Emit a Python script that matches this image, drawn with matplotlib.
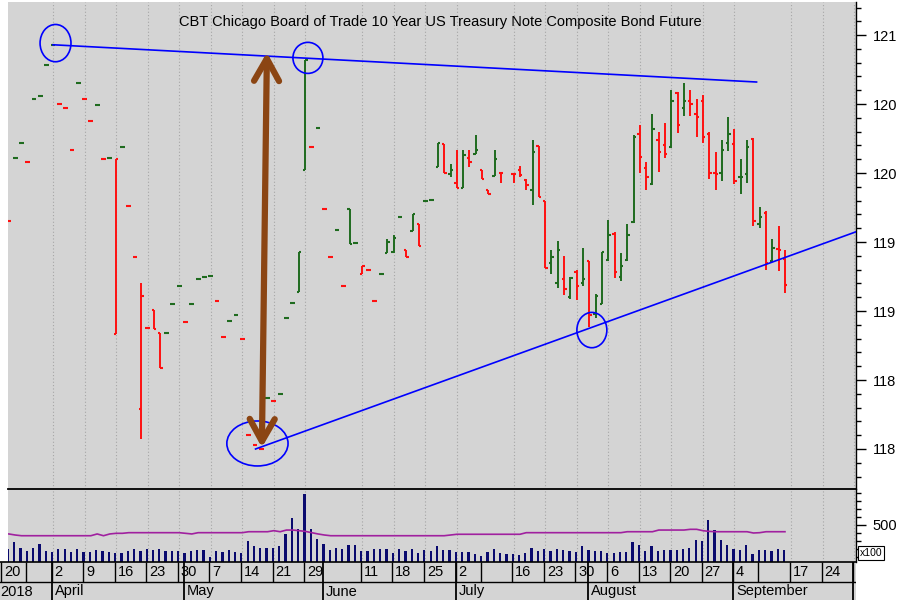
import numpy as np
import pandas as pd
import matplotlib
matplotlib.use("Agg")
import matplotlib.pyplot as plt
from matplotlib.patches import Ellipse

plt.rcParams['font.family'] = ['Liberation Sans', 'DejaVu Sans']

title = "CBT Chicago Board of Trade 10 Year US Treasury Note Composite Bond Future"

# ---------------- trading calendar ----------------
holidays = ['2018-03-30', '2018-05-28', '2018-07-04', '2018-09-03']
calendar = pd.bdate_range('2018-03-19', '2018-10-05')
calendar = calendar[~calendar.isin(pd.to_datetime(holidays))]
cal_list = list(calendar)
origin = cal_list.index(pd.Timestamp('2018-04-02'))


def xpos(date):
    return cal_list.index(pd.Timestamp(date)) - origin


first_bar, last_bar = '2018-03-21', '2018-09-14'
bar_dates = calendar[(calendar >= first_bar) & (calendar <= last_bar)]

# ---------------- daily data (21 Mar .. 14 Sep 2018) ----------------
nan = np.nan
opens = [
    119.65, 120.11, 120.22, 120.08, 120.54, 120.56, 120.78, 120.93, 120.50, 120.47,
    120.17, 120.65, 120.54, 120.38, 120.49, 120.10, 120.11, 118.83, 120.19, 119.76,
    119.39, 118.29, 118.88, 119.01, 118.84, 118.84, 119.05, 119.18, 118.92, 119.05,
    119.23, 119.25, 119.255, 119.075, 118.81, 118.93, 118.97, 118.795, 118.10, 118.03,
    117.998, 118.37, 118.35, 118.40, 118.95, 119.06, 119.135, 120.02, 120.19, 120.33,
    119.74, 119.39, 119.59, 119.18, 119.74, 119.49, 119.27, 119.30, 119.075, 119.27,
    119.42, 119.43, 119.68, 119.44, 119.58, 119.63, 119.80, 119.805, 120.045, 120.21,
    119.99, 119.93, 119.89, 120.11, 120.14, 120.02, 119.88, 119.98, 120.00, nan,
    119.99, 120.02, 119.95, 119.88, 120.196, 119.80, 119.35, 119.20, 119.23, 119.10,
    119.28, 119.20, 119.36, 118.98, 119.05, 119.37, 119.56, 119.25, 119.37, 119.645,
    120.28, 120.04, 119.92, 120.24, 120.20, 120.19, 120.58, 120.47, 120.52, 120.43,
    120.52, 120.28, 120.00, 120.00, 120.22, 120.21, 119.97, 119.99, 120.25, 119.63,
    119.71, 119.36, 119.45, 119.38]
highs = [
    119.65, 120.11, 120.22, 120.08, 120.54, 120.56, 120.78, 120.93, 120.50, 120.47,
    120.17, 120.65, 120.54, 120.38, 120.49, 120.10, 120.11, 120.10, 120.19, 119.76,
    119.39, 119.205, 118.88, 119.01, 118.84, 118.84, 119.05, 119.18, 118.92, 119.05,
    119.23, 119.25, 119.255, 119.075, 118.81, 118.93, 118.97, 118.795, 118.10, 118.03,
    117.998, 118.37, 118.35, 118.40, 118.95, 119.06, 119.43, 120.82, 120.19, 120.33,
    119.74, 119.39, 119.59, 119.18, 119.74, 119.49, 119.33, 119.30, 119.075, 119.27,
    119.52, 119.55, 119.68, 119.44, 119.70, 119.63, 119.80, 119.805, 120.22, 120.21,
    120.065, 120.17, 120.17, 120.17, 120.275, 120.02, 119.88, 120.17, 120.00, nan,
    119.99, 120.053, 119.955, 120.24, 120.196, 119.80, 119.44, 119.51, 119.40, 119.25,
    119.30, 119.46, 119.365, 119.12, 119.425, 119.66, 119.57, 119.42, 119.63, 120.275,
    120.35, 120.08, 120.43, 120.30, 120.365, 120.60, 120.59, 120.65, 120.60, 120.536,
    120.565, 120.30, 120.15, 120.24, 120.41, 120.32, 120.10, 120.24, 120.256, 119.756,
    119.725, 119.52, 119.616, 119.44]
lows = [
    119.65, 120.11, 120.22, 120.08, 120.54, 120.56, 120.78, 120.93, 120.50, 120.47,
    120.17, 120.65, 120.54, 120.38, 120.49, 120.10, 120.11, 118.83, 120.19, 119.76,
    119.39, 118.07, 118.88, 118.87, 118.585, 118.84, 119.05, 119.18, 118.92, 119.05,
    119.23, 119.25, 119.255, 119.075, 118.81, 118.93, 118.97, 118.795, 118.10, 118.03,
    117.998, 118.37, 118.35, 118.40, 118.95, 119.06, 119.135, 120.02, 120.19, 120.33,
    119.74, 119.39, 119.59, 119.18, 119.485, 119.49, 119.27, 119.30, 119.075, 119.27,
    119.42, 119.42, 119.68, 119.39, 119.58, 119.47, 119.80, 119.805, 120.045, 120.00,
    119.97, 119.89, 119.89, 120.045, 120.135, 119.955, 119.85, 119.98, 119.93, nan,
    119.925, 119.973, 119.88, 119.77, 119.83, 119.31, 119.27, 119.165, 119.116, 119.085,
    119.08, 119.18, 118.886, 118.95, 119.05, 119.36, 119.24, 119.22, 119.36, 119.64,
    120.00, 119.88, 119.91, 120.005, 120.11, 120.18, 120.29, 120.415, 120.415, 120.26,
    120.22, 119.96, 119.88, 119.94, 120.16, 119.92, 119.85, 119.93, 119.616, 119.60,
    119.30, 119.353, 119.29, 119.13]
closes = [
    119.65, 120.11, 120.22, 120.08, 120.54, 120.56, 120.78, 120.93, 120.50, 120.47,
    120.17, 120.65, 120.54, 120.38, 120.49, 120.10, 120.11, 120.10, 120.19, 119.76,
    119.39, 119.11, 118.88, 118.87, 118.585, 118.84, 119.05, 119.18, 118.92, 119.05,
    119.23, 119.25, 119.255, 119.075, 118.81, 118.93, 118.97, 118.795, 118.10, 118.03,
    117.998, 118.37, 118.35, 118.40, 118.95, 119.06, 119.43, 120.82, 120.19, 120.33,
    119.74, 119.39, 119.59, 119.18, 119.485, 119.49, 119.33, 119.30, 119.075, 119.27,
    119.50, 119.53, 119.68, 119.39, 119.70, 119.47, 119.80, 119.805, 120.22, 120.00,
    120.02, 119.89, 120.13, 120.08, 120.17, 119.955, 119.85, 120.10, 120.00, nan,
    119.99, 119.985, 119.91, 120.155, 119.83, 119.31, 119.39, 119.44, 119.157, 119.24,
    119.18, 119.23, 118.97, 119.11, 119.425, 119.55, 119.285, 119.33, 119.55, 120.26,
    120.12, 119.97, 120.32, 120.15, 120.14, 120.52, 120.35, 120.52, 120.50, 120.41,
    120.26, 120.00, 119.99, 120.17, 120.28, 119.94, 119.97, 120.19, 119.655, 119.68,
    119.35, 119.455, 119.44, 119.186]
# volume in hundreds of contracts
volumes = [
    200, 283, 217, 175, 217, 262, 175, 158, 200, 200,
    158, 200, 158, 158, 187, 175, 158, 146, 146, 175,
    200, 175, 200, 187, 200, 175, 175, 175, 146, 175,
    187, 187, 104, 175, 158, 187, 158, 146, 300, 237,
    217, 217, 217, 237, 387, 592, 450, 887, 450, 325,
    262, 187, 217, 200, 250, 250, 175, 175, 200, 200,
    200, 146, 200, 175, 200, 146, 187, 175, 237, 187,
    187, 158, 158, 158, 133, 117, 158, 200, 146, 133,
    133, 125, 146, 217, 175, 200, 175, 200, 187, 175,
    158, 237, 187, 175, 175, 146, 146, 158, 158, 283,
    250, 175, 237, 175, 187, 187, 187, 200, 217, 312,
    300, 562, 437, 312, 250, 200, 187, 250, 133, 187,
    187, 175, 200, 187]
volume_avg = [
    388, 375, 366, 366, 366, 366, 366, 366, 366, 366,
    366, 366, 366, 366, 388, 366, 388, 396, 396, 404,
    404, 404, 404, 404, 404, 404, 404, 404, 396, 388,
    404, 404, 404, 404, 404, 404, 404, 404, 416, 416,
    416, 416, 429, 416, 437, 437, 429, 420, 404, 388,
    375, 366, 366, 366, 366, 366, 366, 366, 366, 366,
    366, 366, 366, 366, 366, 366, 366, 366, 366, 366,
    375, 384, 384, 384, 384, 384, 384, 384, 384, 384,
    384, 384, 404, 404, 404, 404, 404, 404, 404, 404,
    404, 404, 404, 404, 404, 404, 404, 404, 416, 416,
    416, 416, 416, 437, 437, 437, 437, 437, 446, 446,
    429, 420, 416, 416, 416, 416, 416, 416, 400, 404,
    416, 416, 416, 416]

# axis labels
price_ticks = [118.0, 118.5, 119.0, 119.5, 120.0, 120.5, 121.0]
price_tick_labels = ['118', '118', '119', '119', '120', '120', '121']
week_starts = ['2018-03-20', '2018-03-26', '2018-04-02', '2018-04-09', '2018-04-16',
               '2018-04-23', '2018-04-30', '2018-05-07', '2018-05-14', '2018-05-21',
               '2018-05-29', '2018-06-11', '2018-06-18', '2018-06-25', '2018-07-02',
               '2018-07-09', '2018-07-16', '2018-07-23', '2018-07-30', '2018-08-06',
               '2018-08-13', '2018-08-20', '2018-08-27', '2018-09-04', '2018-09-10',
               '2018-09-17', '2018-09-24', '2018-10-01']
week_labels = ['20', '', '2', '9', '16', '23', '30', '7', '14', '21', '29', '11', '18',
               '25', '2', '', '16', '23', '30', '6', '13', '20', '27', '4', '', '17',
               '24', '1']
month_starts = ['2018-03-20', '2018-04-02', '2018-05-01', '2018-06-01', '2018-07-02',
                '2018-08-01', '2018-09-04', '2018-10-01']
month_labels = ['2018', 'April', 'May', 'June', 'July', 'August', 'September', 'October']

# annotations (date, price)
resistance = [('2018-04-02', 120.93), ('2018-09-07', 120.66)]
support = [('2018-05-17', 118.0), ('2018-10-01', 119.575)]
arrow_pts = [('2018-05-17', 118.01), ('2018-05-17', 120.875)]
circles = [('2018-04-02', 120.942, 4.9, 0.27), ('2018-05-29', 120.835, 4.75, 0.225),
           ('2018-05-16', 118.04, 9.7, 0.326), ('2018-08-01', 118.862, 4.75, 0.256)]

# ---------------- styling ----------------
W, H = 897, 600
BG = '#d4d4d4'
GREEN = '#1f6b1f'
RED = '#ff1010'
BLUE = '#0000ff'
BROWN = '#8b4513'
NAVY = '#0a0a6e'
PURPLE = '#a0209f'
GRID = '#a6a6a6'

x_left_px, x_right_px = 8, 856
d0_px, px_per_day = 53.0, 6.31
xlim = ((x_left_px - d0_px) / px_per_day, (x_right_px - d0_px) / px_per_day)

fig = plt.figure(figsize=(W / 100, H / 100), dpi=100)
fig.patch.set_facecolor('white')

ax = fig.add_axes([x_left_px / W, 1 - 489 / H, (x_right_px - x_left_px) / W, 487 / H])
axv = fig.add_axes([x_left_px / W, 1 - 562 / H, (x_right_px - x_left_px) / W, 73 / H], sharex=ax)
axd = fig.add_axes([0, 0, x_right_px / W, 38 / H])

for a in (ax, axv):
    a.set_facecolor(BG)
    a.set_xlim(*xlim)
    for s in ('left', 'top', 'bottom'):
        a.spines[s].set_visible(False)
    a.spines['right'].set_color('black')
    a.spines['right'].set_linewidth(1.0)
    a.tick_params(axis='x', which='both', bottom=False, labelbottom=False)

bx = np.array([xpos(d) for d in bar_dates], dtype=float)
o = np.array(opens); h = np.array(highs); l = np.array(lows); c = np.array(closes)
prev_close = pd.Series(c).ffill().shift(1).to_numpy()
up = c >= prev_close

# weekly grid
grid_x = [xpos(d) for d, lab in zip(week_starts, week_labels) if lab and d >= '2018-04-01']
for a in (ax, axv):
    for gx in grid_x:
        a.axvline(gx, color=GRID, lw=0.8, ls=(0, (1, 2)), zorder=0)

# price bars
tick = 0.38
for x, oo, hh, ll, cc, u in zip(bx, o, h, l, c, up):
    if np.isnan(cc):
        continue
    col = GREEN if u else RED
    if hh > ll:
        ax.vlines(x, ll, hh, color=col, lw=1.4, zorder=3)
    ax.hlines(oo, x - tick, x, color=col, lw=1.5, zorder=3)
    ax.hlines(cc, x, x + tick, color=col, lw=1.5, zorder=3)

ax.set_ylim(117.71, 121.24)
ax.yaxis.tick_right()
ax.set_yticks(price_ticks)
ax.set_yticklabels(price_tick_labels)
ax.set_yticks(np.arange(117.8, 121.25, 0.1), minor=True)
ax.tick_params(axis='y', which='major', length=7, width=1, direction='out', pad=5,
               labelsize=10.5, colors='black')
ax.tick_params(axis='y', which='minor', length=3.5, width=1, direction='out')

ax.text(0.51, 0.959, title, transform=ax.transAxes, ha='center', va='center', fontsize=10.5)

# trend lines
ax.plot([xpos(resistance[0][0]), xpos(resistance[1][0]) + 0.5],
        [resistance[0][1], resistance[1][1]], color=BLUE, lw=1.2, zorder=4)
sx0, sx1 = xpos(support[0][0]) - 0.9, xpos(support[1][0]) + 0.3
ax.plot([sx0, sx1], [support[0][1], support[1][1]], color=BLUE, lw=1.2, zorder=4)

for dte, py, w, hgt in circles:
    ax.add_patch(Ellipse((xpos(dte) + 0.4, py), w, hgt, fill=False, edgecolor=BLUE,
                         lw=1.2, zorder=5))

ax.annotate('', xy=(xpos(arrow_pts[1][0]) + 0.9, arrow_pts[1][1]),
            xytext=(xpos(arrow_pts[0][0]) + 0.1, arrow_pts[0][1]),
            arrowprops=dict(arrowstyle='<->,head_length=0.8,head_width=0.45',
                            mutation_scale=20, lw=4.5, color=BROWN,
                            shrinkA=0, shrinkB=0, capstyle='round', joinstyle='round'),
            zorder=6)

# volume panel
axv.bar(bx - 0.15, volumes, width=0.36, color=NAVY, zorder=3)
axv.plot(bx, volume_avg, color=PURPLE, lw=1.2, zorder=4)
axv.set_ylim(37.5, 950)
axv.spines['top'].set_visible(True)
axv.spines['top'].set_color('black')
axv.spines['top'].set_linewidth(1.3)
axv.yaxis.tick_right()
axv.set_yticks([500])
axv.set_yticklabels(['500'])
axv.set_yticks([100, 200, 300, 400, 600, 700, 800, 900], minor=True)
axv.tick_params(axis='y', which='major', length=7, width=1, direction='out', pad=5,
                labelsize=10.5)
axv.tick_params(axis='y', which='minor', length=3.5, width=1, direction='out')
fig.text(871 / W, 1 - 553 / H, 'x100', ha='center', va='center', fontsize=7.5,
         bbox=dict(boxstyle='square,pad=0.15', fc='white', ec='black', lw=0.8))

# date axis
axd.set_facecolor(BG)
axd.set_xlim(-d0_px / px_per_day, xlim[1])
axd.set_ylim(0, 38)
axd.set_xticks([]); axd.set_yticks([])
for s in ('left', 'right', 'bottom'):
    axd.spines[s].set_visible(False)
axd.spines['top'].set_color('black')
axd.spines['top'].set_linewidth(1.2)
axd.axhline(18.5, color='black', lw=1.0)
for d, lab in zip(week_starts, week_labels):
    x = xpos(d) - 0.2
    axd.vlines(x, 18.5, 38, color='black', lw=1.0)
    if lab:
        axd.text(x + 0.45, 28.5, lab, ha='left', va='center', fontsize=10.5, clip_on=True)
for d, lab in zip(month_starts, month_labels):
    x = xpos(d) - 0.2
    if d != month_starts[0]:
        axd.vlines(x, 0, 38, color='black', lw=1.3)
        axd.text(x + 0.45, 8.5, lab, ha='left', va='center', fontsize=10.5, clip_on=True)
    else:
        axd.text(axd.get_xlim()[0] + 0.05, 8.5, lab, ha='left', va='center',
                 fontsize=10.5, clip_on=True)

fig.savefig('out.png', dpi=100, facecolor='white')
